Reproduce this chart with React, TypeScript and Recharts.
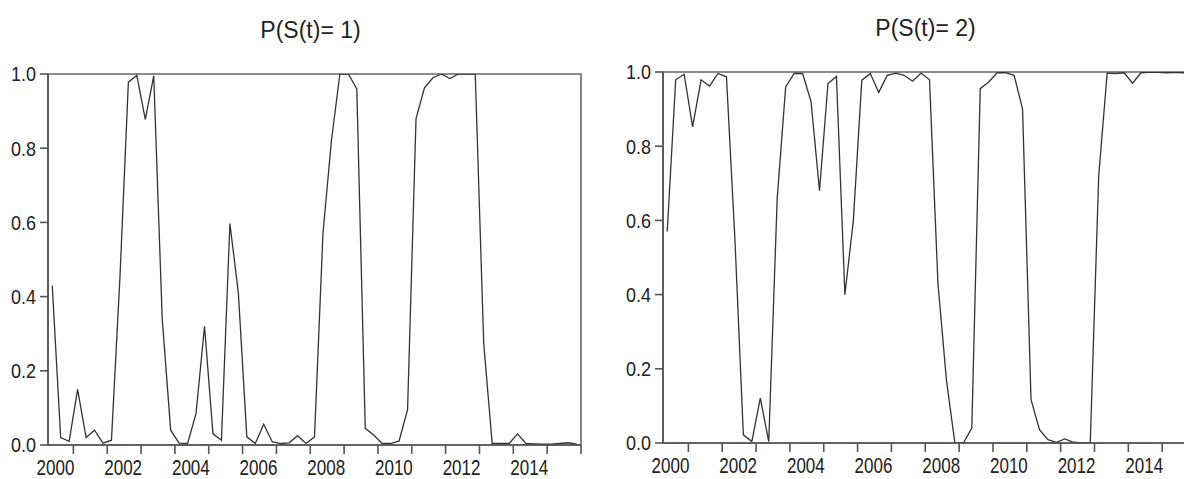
import { LineChart, Line, XAxis, YAxis, ReferenceArea } from 'recharts';

// quarterly smoothed regime probabilities, first observation 1999Q2
const START_YEAR = 1999;
const START_QUARTER = 2;

const regime1 = [
  0.43, 0.02, 0.01, 0.15, 0.02, 0.04, 0.005, 0.013, 0.45, 0.978,
  0.996, 0.878, 0.995, 0.34, 0.04, 0.005, 0.004, 0.085, 0.32, 0.03,
  0.013, 0.597, 0.41, 0.022, 0.004, 0.056, 0.009, 0.004, 0.006, 0.025,
  0.004, 0.022, 0.57, 0.82, 1.0, 1.0, 0.96, 0.045, 0.027, 0.004,
  0.004, 0.011, 0.095, 0.88, 0.963, 0.99, 1.0, 0.988, 1.0, 1.0,
  1.0, 0.275, 0.004, 0.004, 0.004, 0.03, 0.004, 0.003, 0.002, 0.002,
  0.004, 0.006, 0.002,
];

const regime2 = [
  0.57, 0.979, 0.994, 0.852, 0.979, 0.962, 0.996, 0.987, 0.55, 0.022,
  0.004, 0.121, 0.004, 0.66, 0.96, 0.996, 0.996, 0.92, 0.68, 0.969,
  0.988, 0.4, 0.6, 0.978, 0.996, 0.945, 0.991, 0.997, 0.991, 0.975,
  0.997, 0.979, 0.43, 0.17, 0.0, 0.0, 0.04, 0.955, 0.973, 0.998,
  0.998, 0.991, 0.9, 0.117, 0.036, 0.009, 0.002, 0.011, 0.002, 0.0,
  0.0, 0.72, 0.997, 0.996, 0.998, 0.97, 0.998, 0.999, 0.999, 0.998,
  0.999, 0.998, 0.997,
];

const yTicks = [0, 0.2, 0.4, 0.6, 0.8, 1.0];
const yearTicks = [2000, 2001, 2002, 2003, 2004, 2005, 2006, 2007, 2008, 2009, 2010, 2011, 2012, 2013, 2014, 2015];
const labelledYears = [2000, 2002, 2004, 2006, 2008, 2010, 2012, 2014];

const X_MIN = 1999.25;
const X_MAX = 2015;

// each quarter is drawn at its middle on a continuous year scale
const quarterPos = regime1.map((_, i) => {
  const q = START_QUARTER - 1 + i;
  return START_YEAR + Math.floor(q / 4) + (q % 4) * 0.25 + 0.125;
});

const AXIS = '#555';
const TEXT = '#222';

// year labels sit to the left of their tick, like the source program draws them
function YearTick(props: any) {
  const { x, y, payload } = props;
  if (!labelledYears.includes(payload.value)) return <g />;
  return (
    <text
      transform={`translate(${x + 1},${y + 18}) scale(1,1.28)`}
      textAnchor="end"
      fill={TEXT}
      fontSize={17}
    >
      {payload.value}
    </text>
  );
}

function ProbTick(props: any) {
  const { x, y, payload } = props;
  return (
    <text
      transform={`translate(${x},${y}) scale(1,1.15)`}
      textAnchor="end"
      dy="0.36em"
      fill={TEXT}
      fontSize={18}
    >
      {payload.value.toFixed(1)}
    </text>
  );
}

function Panel({ values, title, left, top }: { values: number[]; title: string; left: number; top: number }) {
  const data = values.map((v, i) => ({ t: quarterPos[i], p: v }));
  return (
    <div style={{ position: 'absolute', left, top, width: 600, height: 479 }}>
      <div
        style={{
          position: 'absolute', left: 44, width: 533, top: 17,
          textAlign: 'center', fontSize: 23, lineHeight: '26px', color: TEXT,
        }}
      >
        {title}
      </div>
      <LineChart width={600} height={479} data={data} margin={{ top: 74, right: 19, bottom: 4, left: 8 }}>
        <ReferenceArea x1={X_MIN} x2={X_MAX} y1={0} y2={1} fill="none" stroke="#666" strokeWidth={1.6} />
        <XAxis
          dataKey="t"
          type="number"
          domain={[X_MIN, X_MAX]}
          ticks={yearTicks}
          interval={0}
          height={30}
          tickSize={9}
          tickMargin={3}
          tick={YearTick}
          axisLine={{ stroke: AXIS, strokeWidth: 1.6 }}
          tickLine={{ stroke: AXIS, strokeWidth: 1.6 }}
          allowDataOverflow
        />
        <YAxis
          type="number"
          domain={[0, 1]}
          ticks={yTicks}
          width={40}
          tickSize={8}
          tickMargin={4}
          tick={ProbTick}
          axisLine={{ stroke: AXIS, strokeWidth: 1.6 }}
          tickLine={{ stroke: AXIS, strokeWidth: 1.6 }}
          allowDataOverflow
        />
        <Line
          type="linear"
          dataKey="p"
          stroke="#333"
          strokeWidth={1.3}
          dot={false}
          isAnimationActive={false}
        />
      </LineChart>
    </div>
  );
}

export default function App() {
  return (
    <div
      style={{
        position: 'fixed', left: 0, top: 0, width: 1184, height: 479,
        overflow: 'hidden', background: '#fff',
        fontFamily: '"Liberation Sans", Arial, sans-serif',
      }}
    >
      <Panel values={regime1} title="P(S(t)= 1)" left={0} top={0} />
      <Panel values={regime2} title="P(S(t)= 2)" left={615} top={-2} />
    </div>
  );
}
